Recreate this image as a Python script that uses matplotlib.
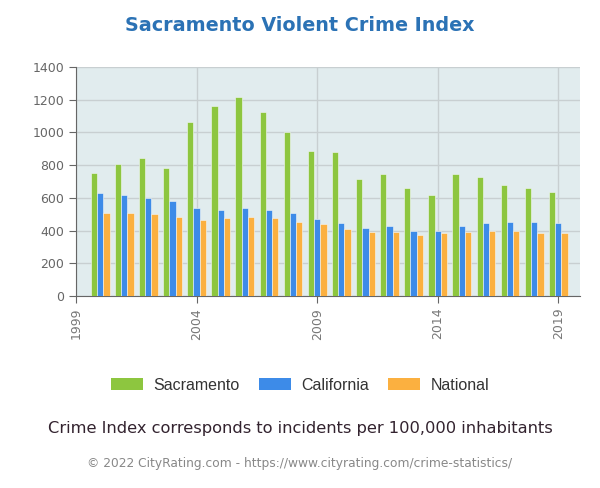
import numpy as np
import matplotlib
matplotlib.use("Agg")
import matplotlib.pyplot as plt
from matplotlib.patches import Patch

# Values
years = list(range(2000, 2020))
sacramento = [752, 807, 844, 780, 1062, 1160, 1215, 1123, 1005, 889,
              880, 717, 744, 662, 617, 744, 725, 681, 662, 636]
california = [628, 617, 599, 583, 536, 528, 536, 528, 507, 473,
              444, 418, 426, 399, 399, 428, 444, 454, 454, 444]
national = [509, 509, 499, 483, 467, 475, 483, 475, 454, 438,
            410, 393, 393, 373, 383, 393, 399, 399, 383, 383]
series_names = ["Sacramento", "California", "National"]
series_colors = ["#8dc63f", "#3d8be8", "#fbb040"]
x_ticks = [1999, 2004, 2009, 2014, 2019]
y_ticks = list(range(0, 1401, 200))

plt.rcParams["font.family"] = "DejaVu Sans"

fig = plt.figure(figsize=(6, 4.88), dpi=100)
ax = fig.add_axes([0.1267, 0.3934, 0.84, 0.4693])
ax.set_facecolor("#e1ecee")

x = np.array(years, dtype=float)
width = 0.26
for i, (vals, color) in enumerate(zip([sacramento, california, national], series_colors)):
    ax.bar(x + (i - 1) * width, vals, width=width, color=color,
           edgecolor="#f4f8f8", linewidth=0.4, zorder=3)

ax.set_xlim(1999, 2019.9)
ax.set_ylim(0, 1400)
ax.set_xticks(x_ticks)
ax.set_xticklabels([str(t) for t in x_ticks], rotation=90, color="#777777", fontsize=9)
ax.set_yticks(y_ticks)
ax.set_yticklabels([str(t) for t in y_ticks], color="#666666", fontsize=9)
ax.grid(True, color="#c8cfd1", linewidth=1, zorder=0)
ax.set_axisbelow(True)
for side in ["top", "right"]:
    ax.spines[side].set_visible(False)
for side in ["left", "bottom"]:
    ax.spines[side].set_color("#666666")
ax.tick_params(axis="both", color="#666666", length=5, direction="out")

fig.text(0.5, 0.947, "Sacramento Violent Crime Index", ha="center", va="center",
         fontsize=13.8, fontweight="bold", color="#2b72b5")

handles = [Patch(facecolor=c, edgecolor="none") for c in series_colors]
fig.legend(handles, series_names, loc="center", bbox_to_anchor=(0.5, 0.21),
           ncol=3, frameon=False, handlelength=2.0, handleheight=0.78,
           columnspacing=1.2, handletextpad=0.65, labelcolor="#333333",
           prop={"family": "Liberation Sans", "size": 11.5})

fig.text(0.5, 0.122, "Crime Index corresponds to incidents per 100,000 inhabitants",
         ha="center", va="center", fontsize=11.7, color="#33232f")
fig.text(0.5, 0.05, "\u00a9 2022 CityRating.com - https://www.cityrating.com/crime-statistics/",
         ha="center", va="center", fontsize=8.8, color="#888888")

fig.savefig("out.png", dpi=100)
